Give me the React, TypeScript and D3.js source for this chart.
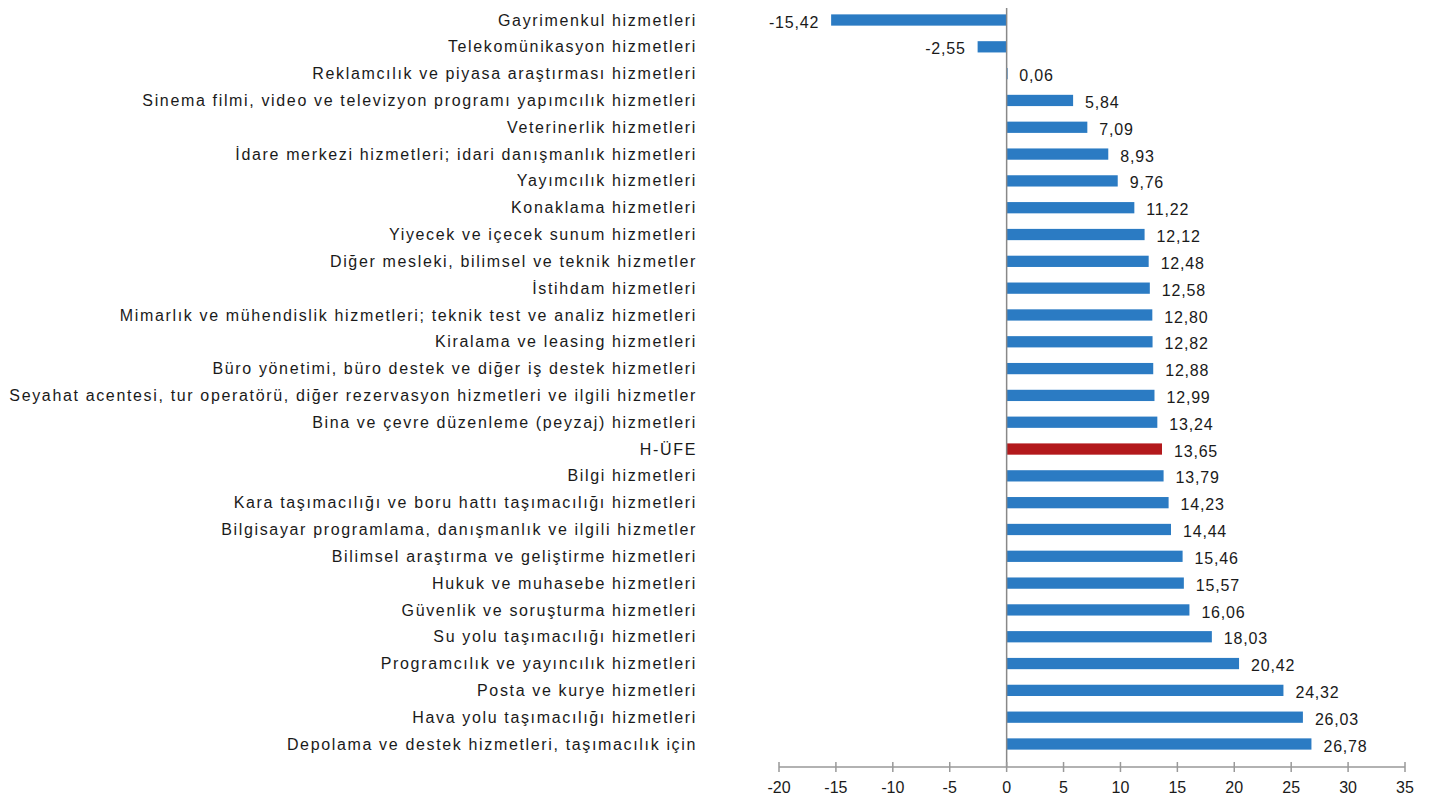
import React from "react";
import * as d3 from "d3";

const categories: string[] = [
  "Gayrimenkul hizmetleri",
  "Telekomünikasyon hizmetleri",
  "Reklamcılık ve piyasa araştırması hizmetleri",
  "Sinema filmi, video ve televizyon programı yapımcılık hizmetleri",
  "Veterinerlik hizmetleri",
  "İdare merkezi hizmetleri; idari danışmanlık hizmetleri",
  "Yayımcılık hizmetleri",
  "Konaklama hizmetleri",
  "Yiyecek ve içecek sunum hizmetleri",
  "Diğer mesleki, bilimsel ve teknik hizmetler",
  "İstihdam hizmetleri",
  "Mimarlık ve mühendislik hizmetleri; teknik test ve analiz hizmetleri",
  "Kiralama ve leasing hizmetleri",
  "Büro yönetimi, büro destek ve diğer iş destek hizmetleri",
  "Seyahat acentesi, tur operatörü, diğer rezervasyon hizmetleri ve ilgili hizmetler",
  "Bina ve çevre düzenleme (peyzaj) hizmetleri",
  "H-ÜFE",
  "Bilgi hizmetleri",
  "Kara taşımacılığı ve boru hattı taşımacılığı hizmetleri",
  "Bilgisayar programlama, danışmanlık ve ilgili hizmetler",
  "Bilimsel araştırma ve geliştirme hizmetleri",
  "Hukuk ve muhasebe hizmetleri",
  "Güvenlik ve soruşturma hizmetleri",
  "Su yolu taşımacılığı hizmetleri",
  "Programcılık ve yayıncılık hizmetleri",
  "Posta ve kurye hizmetleri",
  "Hava yolu taşımacılığı hizmetleri",
  "Depolama ve destek hizmetleri, taşımacılık için",
];

const values: number[] = [
  -15.42, -2.55, 0.06, 5.84, 7.09, 8.93, 9.76, 11.22, 12.12, 12.48, 12.58, 12.8,
  12.82, 12.88, 12.99, 13.24, 13.65, 13.79, 14.23, 14.44, 15.46, 15.57, 16.06,
  18.03, 20.42, 24.32, 26.03, 26.78,
];

const highlight = "H-ÜFE";
const xTicks: number[] = [-20, -15, -10, -5, 0, 5, 10, 15, 20, 25, 30, 35];

const W = 1429;
const H = 805;
const FONT = "'Liberation Sans', Arial, sans-serif";

export default function App() {
  const x = d3.scaleLinear().domain([-20, 35]).range([779, 1405]);
  const y = d3.scaleBand<string>().domain(categories).range([6.6, 757.4]).paddingInner(0.58).paddingOuter(0.29);
  const fmt = (v: number) => d3.format(".2f")(v).replace(".", ",").replace("\u2212", "-");
  const axisY = 767;
  const x0 = x(0);
  return (
    <svg width={W} height={H} style={{ position: "absolute", left: 0, top: 0, background: "#fff" }}>
      {categories.map((c, i) => {
        const v = values[i];
        const yy = y(c)!;
        const bw = y.bandwidth();
        const cy = yy + bw / 2;
        const left = Math.min(x(v), x0);
        const w = Math.abs(x(v) - x0);
        return (
          <g key={c}>
            <text x={697} y={cy} dy="0.35em" textAnchor="end" fontFamily={FONT} fontSize={16} fill="#1a1a1a" letterSpacing={1.65}>
              {c}
            </text>
            <rect x={left} y={yy} width={Math.max(w, 1)} height={bw} fill={c === highlight ? "#b3191c" : "#2b7bc3"} />
            <text
              x={v < 0 ? x(v) - 12 : x(v) + 12}
              y={cy + 2}
              dy="0.35em"
              textAnchor={v < 0 ? "end" : "start"}
              fontFamily={FONT}
              fontSize={16}
              fill="#1a1a1a"
              letterSpacing={0.8}
            >
              {fmt(v)}
            </text>
          </g>
        );
      })}
      <line x1={x0} x2={x0} y1={8} y2={axisY} stroke="#888" strokeWidth={1.5} />
      <line x1={x(-20)} x2={x(35)} y1={axisY} y2={axisY} stroke="#999" strokeWidth={1.5} />
      {xTicks.map((t) => (
        <g key={t}>
          <line x1={x(t)} x2={x(t)} y1={axisY - 5} y2={axisY + 5} stroke="#999" strokeWidth={1.5} />
          <text x={x(t)} y={787} dy="0.35em" textAnchor="middle" fontFamily={FONT} fontSize={16} fill="#1a1a1a">
            {t}
          </text>
        </g>
      ))}
    </svg>
  );
}
